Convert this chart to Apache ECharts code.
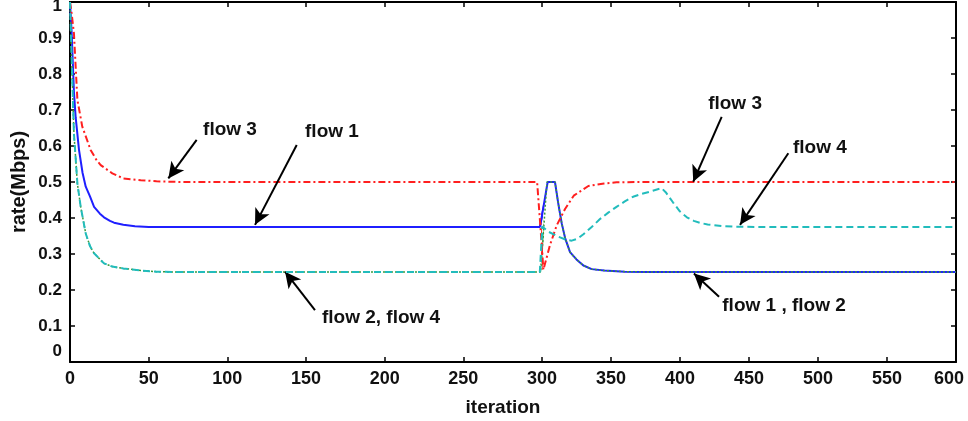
<!DOCTYPE html>
<html><head><meta charset="utf-8">
<script src="https://cdn.jsdelivr.net/npm/echarts@6/dist/echarts.min.js"></script>
<style>html,body{margin:0;padding:0;background:#fff}#c{width:968px;height:421px}</style>
</head><body><div id="c"></div>
<script>
// ---- data (iteration, rate in Mbps) ----
const flow1Iter = [0,1,2.5,3.6,5.7,8,10,12.7,15.3,19,21.6,25.4,28,33.9,41.3,50,298.6,304.1,309.4,311.8,314.3,316.7,320.3,325,330,336,345,360,375,600];
const flow1Rate = [1,0.92,0.75,0.68,0.59,0.525,0.487,0.46,0.431,0.412,0.402,0.392,0.387,0.381,0.377,0.375,0.375,0.5,0.5,0.44,0.385,0.345,0.305,0.285,0.268,0.258,0.254,0.251,0.25,0.25];

const flow2Iter = [0,1,2.5,4.7,6.8,10,12.7,15.3,21.6,26.9,33.9,45,55,65,299,303.6,309.4,311.8,314.3,316.7,320.3,325,330,336,345,360,375,600];
const flow2Rate = [1,0.85,0.635,0.496,0.431,0.357,0.322,0.302,0.274,0.265,0.26,0.254,0.251,0.25,0.25,0.5,0.5,0.44,0.385,0.345,0.305,0.285,0.268,0.258,0.254,0.251,0.25,0.25];

const flow3Iter = [0,1,2.5,3.6,4.7,7.8,13.1,17,19.5,26.9,33.9,45,55,70,296.9,301,305.8,310.7,316.7,323,333.6,345,354,370,600];
const flow3Rate = [1,0.97,0.913,0.82,0.728,0.654,0.589,0.56,0.547,0.524,0.51,0.505,0.502,0.5,0.5,0.256,0.325,0.38,0.425,0.462,0.489,0.496,0.499,0.5,0.5];

const flow4Iter = [0,1,2.5,4.7,6.8,10,12.7,15.3,21.6,26.9,33.9,45,55,65,298.6,300.2,304.6,311.8,317.9,321.5,326,330,336,342,348,354,360,366,372,378,386.7,390,395,400,405,410,415,420,430,440,455,600];
const flow4Rate = [1,0.85,0.635,0.496,0.431,0.357,0.322,0.302,0.274,0.265,0.26,0.254,0.251,0.25,0.25,0.376,0.362,0.348,0.339,0.337,0.343,0.355,0.375,0.397,0.415,0.431,0.446,0.459,0.467,0.473,0.483,0.47,0.443,0.418,0.402,0.392,0.386,0.382,0.378,0.376,0.375,0.375];

const yTicks = [0,0.1,0.2,0.3,0.4,0.5,0.6,0.7,0.8,0.9,1];
const xTicksLeft = [0,50,100,150,200,250,300];
const xTicksRight = [350,400,450,500,550,600];

// annotations: label text, label anchor, arrow start, arrow tip (data coords)
const annotationTexts = ['flow 3','flow 1','flow 2, flow 4','flow 3','flow 4','flow 1 , flow 2'];
const annotationGrid  = [0,0,0,1,1,1];
const annotationAt    = [[101.7,0.644],[166.5,0.639],[197.7,0.122],[439.9,0.717],[501.4,0.594],[475.4,0.156]];
const arrowFrom       = [[80.5,0.617],[144.1,0.603],[155.7,0.144],[430.2,0.681],[478.5,0.58],[428.3,0.181]];
const arrowTo         = [[62.5,0.51],[117.6,0.381],[136.7,0.251],[409.6,0.501],[443.5,0.381],[410.1,0.246]];

// ---- chart ----
const chart = echarts.init(document.getElementById('c'), null, {renderer:'canvas'});
const FONT = '"Liberation Sans", Arial, sans-serif';
const NARROW = '"Liberation Sans Narrow", "Liberation Sans", Arial, sans-serif';
function pairs(xs, ys){ return xs.map((x,i)=>[x, ys[i]]); }

const flows = [
  {iter: flow1Iter, rate: flow1Rate, color:'#1f1fff', type:'solid', width:2},
  {iter: flow2Iter, rate: flow2Rate, color:'#3c9a3c', type:[2,2], width:1.5},
  {iter: flow3Iter, rate: flow3Rate, color:'#ff1f1f', type:[7,3,2,3], width:2},
  {iter: flow4Iter, rate: flow4Rate, color:'#22bcbc', type:[7,4], width:2}
];

const axisLine = {show:true, onZero:false, lineStyle:{color:'#000', width:2}};
const axisTick = {show:true, inside:true, length:5, lineStyle:{color:'#000', width:1.5}};
const xLabel = {margin:8, fontFamily:NARROW, fontWeight:'bold', fontSize:18, color:'#111'};
const xLabelRight = Object.assign({}, xLabel, {
  showMinLabel:false,
  formatter: v => (v === xTicksRight[xTicksRight.length-1] ? '{m|' + v + '}' : String(v)),
  rich:{m:{fontFamily:NARROW, fontWeight:'bold', fontSize:18, color:'#111', padding:[0,14,0,0]}}
});
const yLabel = {
  margin:8, fontFamily:FONT, fontWeight:'bold', fontSize:17, color:'#111',
  formatter: v => (v === yTicks[0] ? '{lo|0}' : v === yTicks[yTicks.length-1] ? '{hi|1}' : String(v)),
  rich:{
    lo:{fontFamily:FONT, fontWeight:'bold', fontSize:17, color:'#111', padding:[0,0,22,0]},
    hi:{fontFamily:FONT, fontWeight:'bold', fontSize:17, color:'#111', padding:[8,0,0,0]}
  }
};

function annots(g){
  const lines = [], points = [];
  annotationTexts.forEach((t,i)=>{
    if (annotationGrid[i] !== g) return;
    lines.push([{coord: arrowFrom[i]}, {coord: arrowTo[i]}]);
    points.push({coord: annotationAt[i], value: t});
  });
  return {
    markLine: {silent:true, animation:false, symbol:['none','arrow'], symbolSize:[12,16],
      lineStyle:{color:'#000', width:2, type:'solid'}, label:{show:false}, emphasis:{disabled:true}, data: lines},
    markPoint: {silent:true, animation:false, symbol:'rect', symbolSize:1, itemStyle:{color:'rgba(0,0,0,0)'},
      label:{show:true, position:'inside', formatter: p => p.value, fontFamily:FONT, fontWeight:'bold', fontSize:19, color:'#111'},
      data: points}
  };
}

const series = [];
[0,1].forEach(g=>{
  flows.forEach((f,k)=>{
    const s = {type:'line', xAxisIndex:g, yAxisIndex:g, data: pairs(f.iter, f.rate),
      showSymbol:false, symbol:'none', clip:true, silent:true, smooth:false,
      lineStyle:{color:f.color, width:f.width, type:f.type}, z: 2 + k};
    if (k === 0) Object.assign(s, annots(g));
    series.push(s);
  });
});

const option = {
  animation:false,
  backgroundColor:'#fff',
  grid:[
    {left:70, top:2, width:472, height:360, containLabel:false, outerBoundsMode:'none'},
    {left:542, top:2, width:414, height:360, containLabel:false, outerBoundsMode:'none'}
  ],
  xAxis:[
    {gridIndex:0, type:'value', min:xTicksLeft[0], max:xTicksLeft[xTicksLeft.length-1], interval:50, position:'bottom',
      axisLine, axisTick, axisLabel:xLabel, splitLine:{show:false}},
    {gridIndex:1, type:'value', min:300, max:xTicksRight[xTicksRight.length-1], interval:50, position:'bottom',
      axisLine, axisTick, axisLabel:xLabelRight, splitLine:{show:false}},
    {gridIndex:0, type:'value', min:0, max:300, interval:50, position:'top',
      axisLine, axisTick, axisLabel:{show:false}, splitLine:{show:false}},
    {gridIndex:1, type:'value', min:300, max:600, interval:50, position:'top',
      axisLine, axisTick, axisLabel:{show:false}, splitLine:{show:false}}
  ],
  yAxis:[
    {gridIndex:0, type:'value', min:yTicks[0], max:yTicks[yTicks.length-1], interval:0.1, position:'left',
      name:'rate(Mbps)', nameLocation:'middle', nameGap:41, nameRotate:90,
      nameTextStyle:{fontFamily:FONT, fontWeight:'bold', fontSize:20, color:'#111'},
      axisLine, axisTick, axisLabel:yLabel, splitLine:{show:false}},
    {gridIndex:1, type:'value', min:0, max:1, interval:0.1, position:'right',
      axisLine, axisTick, axisLabel:{show:false}, splitLine:{show:false}}
  ],
  graphic:[
    {type:'text', x:503, y:408, style:{text:'iteration', textAlign:'center', textVerticalAlign:'middle',
      font:'bold 19px ' + NARROW, fill:'#111'}}
  ],
  series
};
chart.setOption(option);
</script>
</body></html>
